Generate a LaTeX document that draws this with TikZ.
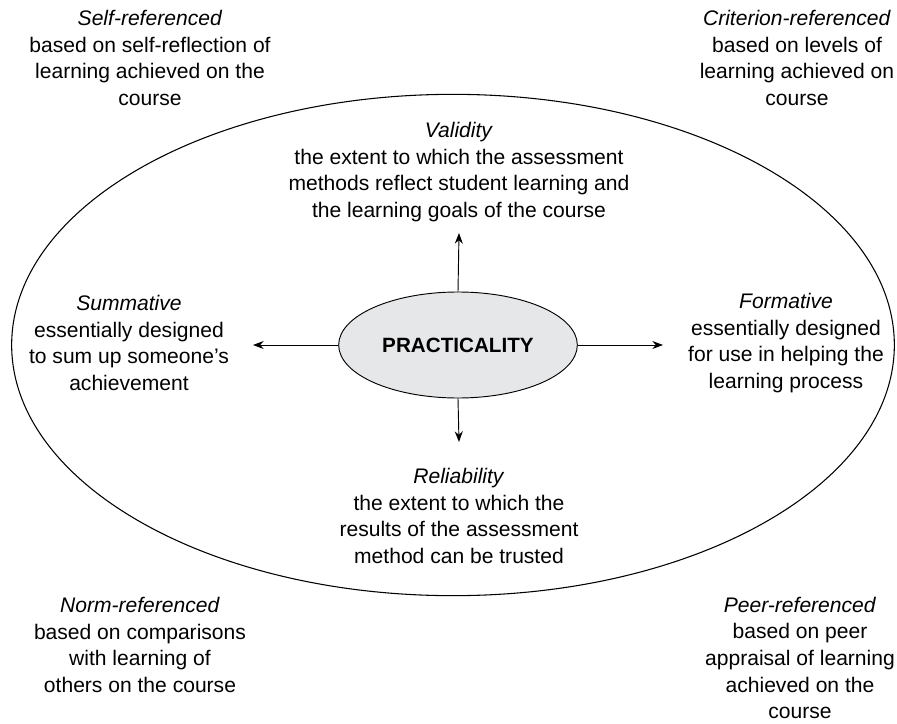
\documentclass[tikz,border=0pt]{standalone}
\usepackage{fontspec}
\setmainfont{Liberation Sans}
\usetikzlibrary{shapes.geometric, arrows.meta}
\definecolor{coregray}{HTML}{E6E7E9}

\begin{document}
\begin{tikzpicture}[x=0.75pt, y=-0.75pt, main/.style={draw, ellipse, inner sep=0pt, line width=0.8pt}, core/.style={draw, ellipse, fill=coregray, inner sep=0pt, line width=0.7pt, minimum width=179pt, minimum height=79.5pt, font=\fontsize{15.5}{18}\selectfont\bfseries}, info/.style={align=center, font=\fontsize{15.8}{20}\selectfont}, n/.style={-{Stealth[length=8pt, width=6pt]}, line width=0.7pt}]
            \useasboundingbox (0,0) rectangle (897,724);
            % nodes
            \node[main, minimum width=662pt, minimum height=376pt] (frame) at (453,345) {};
            \node[core] (prac) at (458,345) {PRACTICALITY};

            \node[info] (selfref) at (150,58) {\textit{Self-referenced}\\based on self-reflection of\\learning achieved on the\\course};
            \node[info] (critref) at (797,58) {\textit{Criterion-referenced}\\based on levels of\\learning achieved on\\course};
            \node[info] (normref) at (140,645) {\textit{Norm-referenced}\\based on comparisons\\with learning of\\others on the course};
            \node[info] (peerref) at (800,658) {\textit{Peer-referenced}\\based on peer\\appraisal of learning\\achieved on the\\course};

            \node[info] (valid) at (459,172) {\textit{Validity}\\the extent to which the assessment\\methods reflect student learning and\\the learning goals of the course};
            \node[info] (reliab) at (459,516) {\textit{Reliability}\\the extent to which the\\results of the assessment\\method can be trusted};
            \node[info] (summ) at (129,343) {\textit{Summative}\\essentially designed\\to sum up someone's\\achievement};
            \node[info] (form) at (786,343) {\textit{Formative}\\essentially designed\\for use in helping the\\learning process};

            \coordinate (tipN) at (459,233);
            \coordinate (tipS) at (459,442);
            \coordinate (tipW) at (253,345);
            \coordinate (tipE) at (663,345);
            % edges
            \draw [n] (prac.north) -- (tipN);
            \draw [n] (prac.south) -- (tipS);
            \draw [n] (prac.west) -- (tipW);
            \draw [n] (prac.east) -- (tipE);
        \end{tikzpicture}
\end{document}
